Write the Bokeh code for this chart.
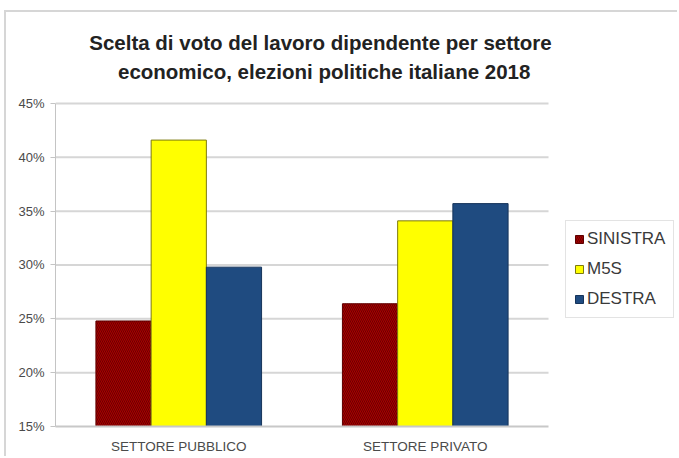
from bokeh.plotting import figure
from bokeh.models import (FixedTicker, PrintfTickFormatter, Legend, LegendItem, Label,
                          ColumnDataSource)
from bokeh.embed import file_html
from bokeh.resources import INLINE

# Vote shares (%) of employees by economic sector, 2018 Italian general election
sectors = ["SETTORE PUBBLICO", "SETTORE PRIVATO"]
sinistra = [24.8, 26.4]
m5s = [41.6, 34.1]
destra = [29.8, 35.7]
y_ticks = [15, 20, 25, 30, 35, 40, 45]
title_lines = ["Scelta di voto del lavoro dipendente per settore",
               "economico, elezioni politiche italiane 2018"]

FONT = "Liberation Sans"
Y_MIN, Y_MAX = y_ticks[0], y_ticks[-1]

# one unit of x per sector; the frame runs on to the right to hold the legend
n = len(sectors)
centers = [i + 0.5 for i in range(n)]
bw = 0.224
source = ColumnDataSource(dict(
    x_sin=[c - bw for c in centers], x_m5s=centers, x_des=[c + bw for c in centers],
    sinistra=sinistra, m5s=m5s, destra=destra))

p = figure(
    x_range=(0, 2.5314), y_range=(Y_MIN, 53.45),
    width=673, height=446,
    output_backend="svg", toolbar_location=None,
    min_border_left=49, min_border_right=0, min_border_top=0, min_border_bottom=32,
    styles={"margin-left": "4px", "margin-top": "10px",
            "border-left": "2px solid #d6d6d6", "border-top": "2px solid #d6d6d6"},
)
p.outline_line_color = None
p.background_fill_color = "white"
p.border_fill_color = "white"
p.xgrid.grid_line_color = None
p.ygrid.grid_line_color = None

# horizontal gridlines across the sector area only
p.segment(x0=0, x1=n, y0=y_ticks[1:], y1=y_ticks[1:], line_color="#d6d6d6", line_width=2)

r_sin = p.vbar(x="x_sin", top="sinistra", bottom=Y_MIN, width=bw, source=source,
               fill_color="#a80000", line_color="#5e0000", line_width=1,
               hatch_pattern="left_diagonal_line", hatch_color="#6a0000",
               hatch_scale=4, hatch_weight=1)
r_m5s = p.vbar(x="x_m5s", top="m5s", bottom=Y_MIN, width=bw, source=source,
               fill_color="#ffff00", line_color="#7d7a10", line_width=1)
r_des = p.vbar(x="x_des", top="destra", bottom=Y_MIN, width=bw, source=source,
               fill_color="#1f4b80", line_color="#16345a", line_width=1)

# y axis
p.yaxis.bounds = (Y_MIN, Y_MAX)
p.yaxis.ticker = FixedTicker(ticks=y_ticks)
p.yaxis.formatter = PrintfTickFormatter(format="%d%%")
p.yaxis.major_label_text_font = FONT
p.yaxis.major_label_text_font_size = "13px"
p.yaxis.major_label_text_color = "#4a4a4a"
p.yaxis.major_label_standoff = 6
p.yaxis.axis_line_color = "#c4c4c4"
p.yaxis.major_tick_line_color = "#c4c4c4"
p.yaxis.major_tick_out = 5
p.yaxis.major_tick_in = 0
p.yaxis.minor_tick_line_color = None

# x axis with sector names
p.xaxis.bounds = (0, n)
p.xaxis.ticker = FixedTicker(ticks=centers)
p.xaxis.major_label_overrides = {c: s for c, s in zip(centers, sectors)}
p.xaxis.major_label_text_font = FONT
p.xaxis.major_label_text_font_size = "13.5px"
p.xaxis.major_label_text_color = "#4a4a4a"
p.xaxis.major_label_standoff = 6
p.xaxis.axis_line_color = "#c8c8c8"
p.xaxis.axis_line_width = 2
p.xaxis.major_tick_line_color = None
p.xaxis.minor_tick_line_color = None

# two-line title
for txt, xx, yy in zip(title_lines, [1.075, 1.09], [50.66, 47.97]):
    p.add_layout(Label(x=xx, y=yy, text=txt, text_align="center",
                       text_baseline="middle", text_font=FONT, text_font_size="20.5px",
                       text_font_style="bold", text_color="#222222"))

legend = Legend(items=[LegendItem(label="SINISTRA", renderers=[r_sin]),
                       LegendItem(label="M5S", renderers=[r_m5s]),
                       LegendItem(label="DESTRA", renderers=[r_des])],
                location=(510, 108))
legend.label_text_font = FONT
legend.label_text_font_size = "17px"
legend.label_text_color = "#3a3a3a"
legend.glyph_width = 10
legend.glyph_height = 10
legend.label_standoff = 3
legend.spacing = 10
legend.padding = 8
legend.margin = 0
legend.border_line_color = "#c8c8c8"
legend.background_fill_alpha = 1
p.add_layout(legend)

open("out.html", "w").write(file_html(p, INLINE))
